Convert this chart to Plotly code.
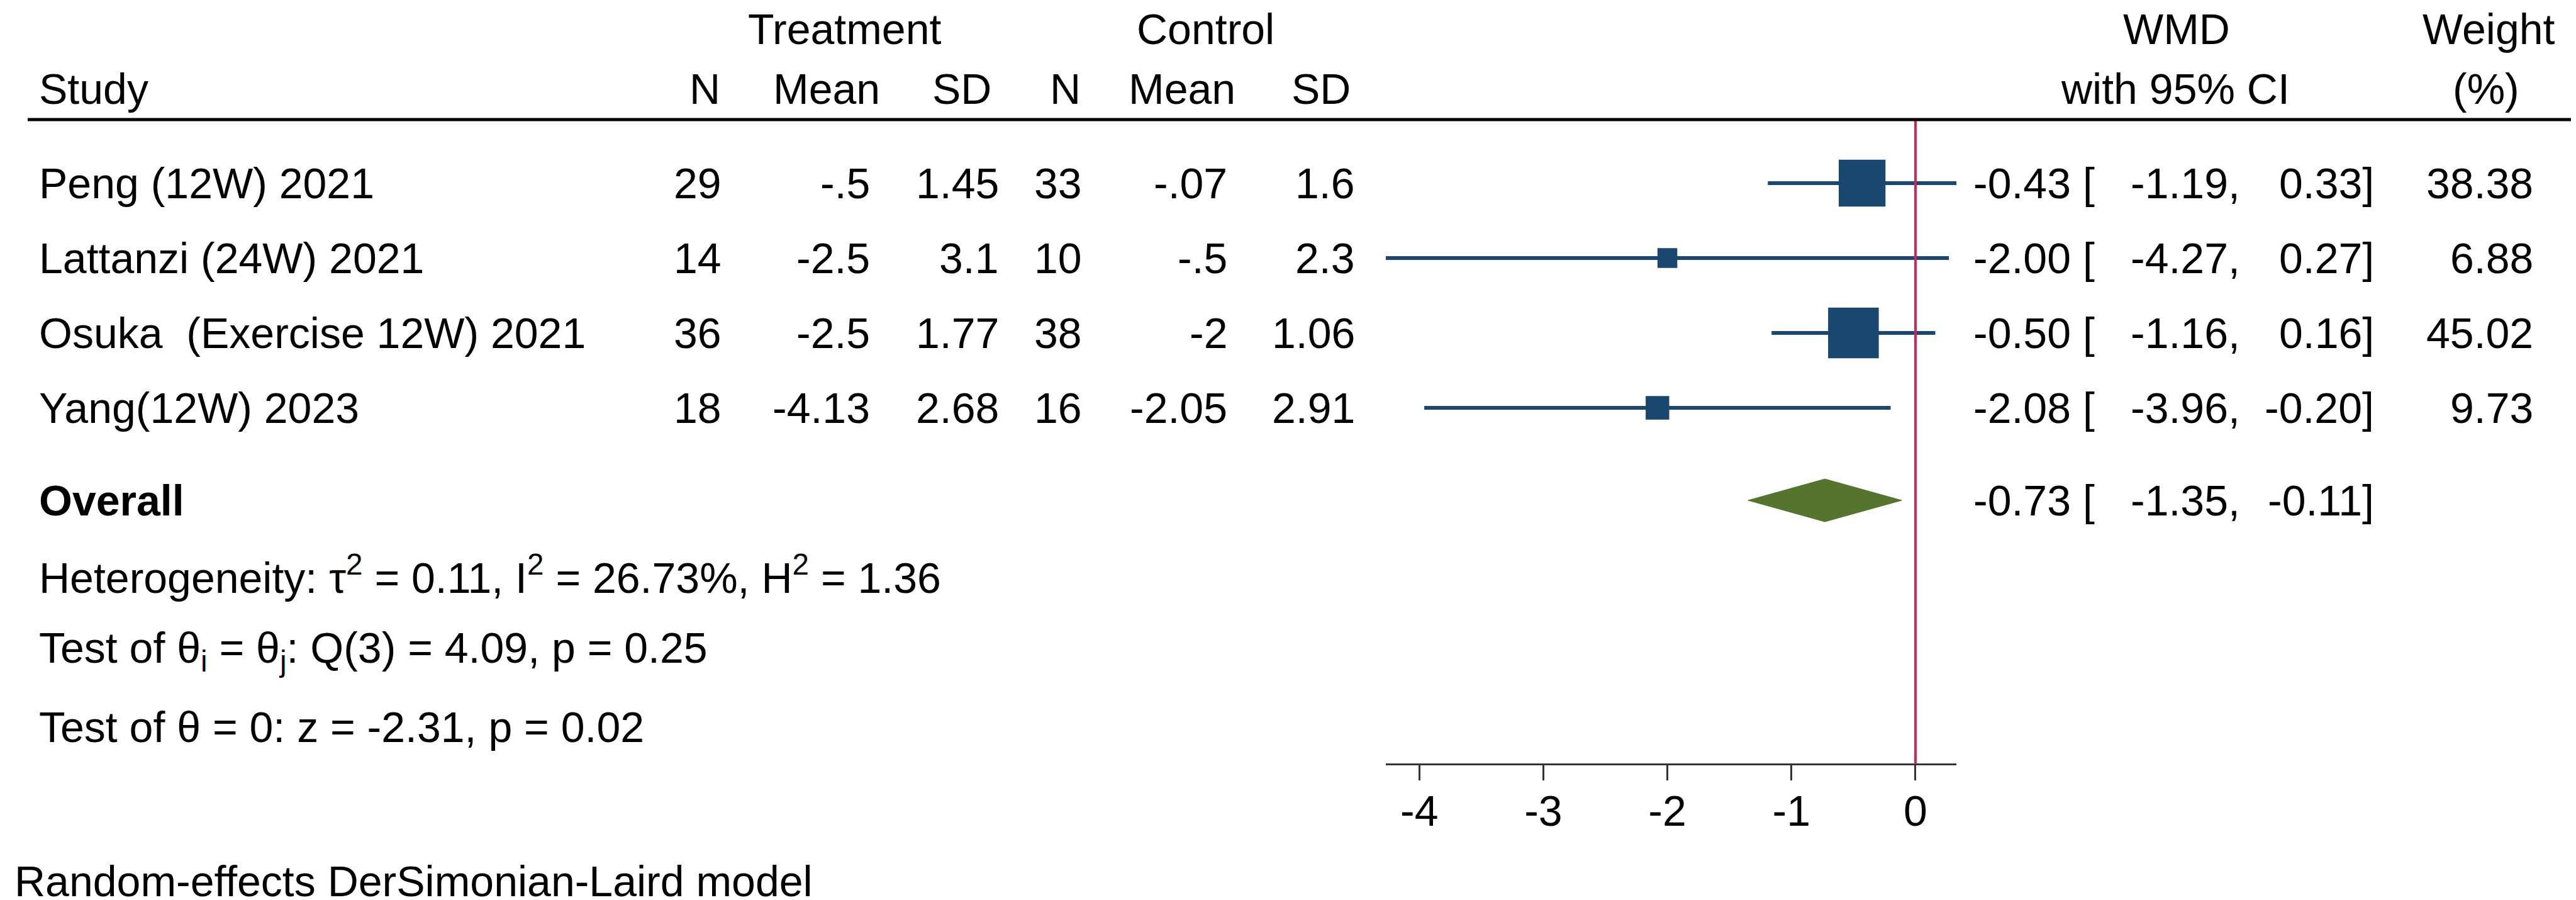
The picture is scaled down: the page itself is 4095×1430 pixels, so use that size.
import math
import plotly.graph_objects as go

# study data
studies = ["Peng (12W) 2021", "Lattanzi (24W) 2021", "Osuka  (Exercise 12W) 2021", "Yang(12W) 2023"]
trt_n = [29, 14, 36, 18]
trt_mean = [-0.5, -2.5, -2.5, -4.13]
trt_sd = [1.45, 3.1, 1.77, 2.68]
ctl_n = [33, 10, 38, 16]
ctl_mean = [-0.07, -0.5, -2, -2.05]
ctl_sd = [1.6, 2.3, 1.06, 2.91]
wmd = [-0.43, -2.00, -0.50, -2.08]
ci_lo = [-1.19, -4.27, -1.16, -3.96]
ci_hi = [0.33, 0.27, 0.16, -0.20]
weight = [38.38, 6.88, 45.02, 9.73]

# pooled result
overall_wmd = -0.73
overall_lo = -1.35
overall_hi = -0.11
tau2, i2, h2 = 0.11, 26.73, 1.36
q_stat, q_df, q_p = 4.09, 3, 0.25
z_stat, z_p = -2.31, 0.02
null_value = 0
tick_vals = [-4, -3, -2, -1, 0]
tick_text = ["-4", "-3", "-2", "-1", "0"]

# layout (pixels)
W, H = 4095, 1430
row_y = [283, 402, 521, 640]
overall_y = 787
head1_y, head2_y, rule_y = 38, 133, 182
axis_y = 1206
stat_y = [905, 1026, 1147]
note_y = 1392
plot_x0, plot_x1 = 2195, 3102

NAVY = "#1a476f"
GREEN = "#55752f"
RED = "#d02356"
FONT = "Liberation Sans, Arial, sans-serif"
FS = 68


def px(x):
    return x / W


def sfmt(v):
    # Stata style %g: drop leading zero
    s = f"{v:g}"
    if s.startswith("-0."):
        s = "-" + s[2:]
    elif s.startswith("0."):
        s = s[1:]
    return s


fig = go.Figure()

# confidence intervals
xs, ys = [], []
for lo, hi, y in zip(ci_lo, ci_hi, row_y):
    xs += [lo, hi, None]
    ys += [y, y, None]
fig.add_trace(go.Scatter(x=xs, y=ys, mode="lines", line=dict(color=NAVY, width=6),
                         hoverinfo="skip", showlegend=False))

# weight squares
fig.add_trace(go.Scatter(x=wmd, y=row_y, mode="markers",
                         marker=dict(symbol="square", color=NAVY, opacity=1,
                                     size=[12 * math.sqrt(w) for w in weight],
                                     line=dict(width=0)),
                         showlegend=False))

# overall diamond
dh = 34
fig.add_trace(go.Scatter(x=[overall_lo, overall_wmd, overall_hi, overall_wmd, overall_lo],
                         y=[overall_y, overall_y - dh, overall_y, overall_y + dh, overall_y],
                         mode="lines", fill="toself", fillcolor=GREEN,
                         line=dict(color=GREEN, width=1), showlegend=False))

# null line and header rule
fig.add_shape(type="line", xref="x", yref="y", x0=null_value, x1=null_value,
              y0=rule_y, y1=axis_y, line=dict(color=RED, width=4))
fig.add_shape(type="line", xref="paper", yref="y", x0=px(36), x1=px(4083),
              y0=rule_y, y1=rule_y, line=dict(color="black", width=5))


def txt(x, y, s, anchor="left", bold=False):
    fig.add_annotation(x=px(x), y=y, xref="paper", yref="y", text=f"<b>{s}</b>" if bold else s,
                       showarrow=False, xanchor=anchor, yanchor="middle",
                       font=dict(family=FONT, size=FS, color="black"))


# headers
txt(1179, head1_y, "Treatment")
txt(1797, head1_y, "Control")
txt(3452, head1_y, "WMD", "center")
txt(3948, head1_y, "Weight", "center")
txt(52, head2_y, "Study")
for x, s in [(1139, "N"), (1393, "Mean"), (1570, "SD"), (1712, "N"), (1958, "Mean"), (2141, "SD")]:
    txt(x, head2_y, s, "right")
txt(3450, head2_y, "with 95% CI", "center")
txt(3944, head2_y, "(%)", "center")

# study rows
for i, y in enumerate(row_y):
    txt(52, y, studies[i])
    txt(1141, y, str(trt_n[i]), "right")
    txt(1377, y, sfmt(trt_mean[i]), "right")
    txt(1582, y, sfmt(trt_sd[i]), "right")
    txt(1714, y, str(ctl_n[i]), "right")
    txt(1945, y, sfmt(ctl_mean[i]), "right")
    txt(2148, y, sfmt(ctl_sd[i]), "right")
    txt(3127, y, f"{wmd[i]:.2f} [")
    txt(3555, y, f"{ci_lo[i]:.2f},", "right")
    txt(3768, y, f"{ci_hi[i]:.2f}]", "right")
    txt(4021, y, f"{weight[i]:.2f}", "right")

# overall row
txt(52, overall_y, "Overall", bold=True)
txt(3127, overall_y, f"{overall_wmd:.2f} [")
txt(3555, overall_y, f"{overall_lo:.2f},", "right")
txt(3768, overall_y, f"{overall_hi:.2f}]", "right")

txt(52, stat_y[0], f"Heterogeneity: τ<sup>2</sup> = {tau2:.2f}, I<sup>2</sup> = {i2:.2f}%, H<sup>2</sup> = {h2:.2f}")
txt(52, stat_y[1], f"Test of θ<sub>i</sub> = θ<sub>j</sub>: Q({q_df}) = {q_stat:.2f}, p = {q_p:.2f}")
txt(52, stat_y[2], f"Test of θ = 0: z = {z_stat:.2f}, p = {z_p:.2f}")
txt(13, note_y, "Random-effects DerSimonian-Laird model")

fig.update_layout(
    width=W, height=H,
    margin=dict(l=0, r=0, t=0, b=0),
    paper_bgcolor="white", plot_bgcolor="white",
    showlegend=False,
    xaxis=dict(domain=[px(plot_x0), px(plot_x1)], range=[min(ci_lo), max(ci_hi)],
               anchor="free", position=1 - axis_y / H,
               showline=True, linecolor="#333", linewidth=3,
               ticks="outside", ticklen=24, tickwidth=3, tickcolor="#333",
               tickvals=tick_vals, ticktext=tick_text, ticklabelstandoff=-10,
               tickfont=dict(family=FONT, size=FS, color="black"),
               showgrid=False, zeroline=False),
    yaxis=dict(domain=[0, 1], range=[H, 0], visible=False),
)

fig.write_html("out.html")
